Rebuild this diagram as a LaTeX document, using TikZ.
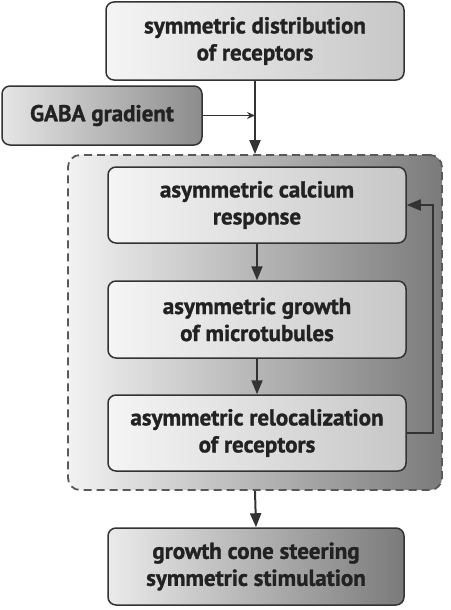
\documentclass[tikz,border=0pt]{standalone}
\usepackage{fontspec}
\setmainfont{PT Sans}[BoldFont={PT Sans Bold},BoldFeatures={FakeBold=1.2}]
\usetikzlibrary{arrows.meta}
\definecolor{txt}{HTML}{222222}
\definecolor{edge}{HTML}{333333}
\tikzset{
  x=1pt, y=1pt,
  box/.style={draw=edge, line width=1.5pt, rounded corners=8pt, minimum width=298pt,
    minimum height=77pt, align=center, text=txt, font=\bfseries\fontsize{23}{27}\selectfont,
    inner sep=0pt},
  lightbox/.style={box, left color=white!96!black, right color=white!78!black},
  darkbox/.style={box, left color=white!92!black, right color=white!48!black},
  group/.style={draw=white!35!black, line width=1.8pt, dash pattern=on 8pt off 5pt,
    rounded corners=12pt, minimum width=374pt, minimum height=335pt,
    left color=white!95!black, right color=white!48!black, inner sep=0pt},
  flow/.style={draw=edge, line width=2pt, -{Triangle[length=14pt,width=11pt]}},
  thin/.style={draw=edge, line width=1.5pt, -{Stealth[length=8pt,width=7pt]}}
}
\begin{document}
\begin{tikzpicture}
\useasboundingbox (0,0) rectangle (450,-610);
\node[lightbox, minimum width=298pt, minimum height=78pt] (top) at (255,-41) {symmetric distribution\\of receptors};
\node[box, minimum width=200pt, minimum height=59pt, left color=white!90!black, right color=white!55!black] (gaba) at (102,-115.5) {GABA gradient};
\node[group] (grp) at (255,-322.5) {};
\node[lightbox, minimum height=76pt] (b2) at (257,-205) {asymmetric calcium\\response};
\node[lightbox] (b3) at (257,-319.5) {asymmetric growth\\of microtubules};
\node[lightbox, minimum height=76pt] (b4) at (257,-433) {asymmetric relocalization\\of receptors};
\node[darkbox, minimum width=296pt] (b5) at (256,-566.5) {growth cone steering\\symmetric stimulation};
\coordinate (join) at (top.south |- gaba.east);
\draw[flow] (top.south) -- (grp.north);
\draw[thin] (gaba.east) -- (join);
\draw[flow] (b2.south) -- (b3.north);
\draw[flow] (b3.south) -- (b4.north);
\draw[flow] (b4.east) -- ++(26,0) |- (b2.east);
\draw[flow] (grp.south) -- (b5.north);
\end{tikzpicture}
\end{document}
